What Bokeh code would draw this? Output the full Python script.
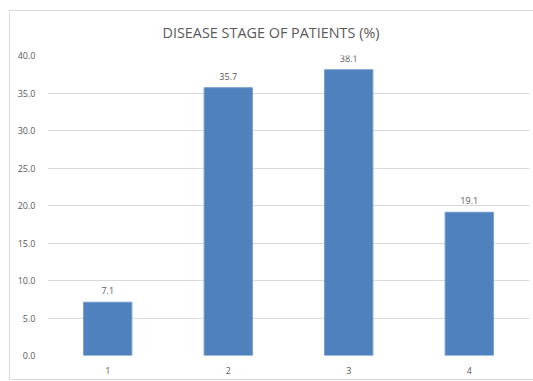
from bokeh.plotting import figure
from bokeh.models import (ColumnDataSource, LabelSet, FactorRange, Range1d,
                          NumeralTickFormatter, FixedTicker)
from bokeh.core.properties import value
from bokeh.embed import file_html
from bokeh.resources import INLINE

stages = ["1", "2", "3", "4"]
percent = [7.1, 35.7, 38.1, 19.1]
labels = ["7.1", "35.7", "38.1", "19.1"]
title_text = "DISEASE STAGE OF PATIENTS (%)"

FONT = "Open Sans"
GREY = "#595959"

src = ColumnDataSource(dict(x=stages, y=percent, lab=labels))

p = figure(width=533, height=381, x_range=FactorRange(*stages, range_padding=0),
           y_range=Range1d(0, 40), output_backend="svg", toolbar_location=None,
           min_border_left=47, min_border_right=4, min_border_top=55, min_border_bottom=26)

p.vbar(x="x", top="y", width=0.4, source=src, fill_color="#4F81BD", line_color="#6d97cc", line_width=1)

p.add_layout(LabelSet(x="x", y="y", text="lab", source=src, text_align="center", text_baseline="bottom",
                      y_offset=8, text_font=value(FONT), text_font_size="9px", text_color=GREY))

p.title.text = title_text
p.title.align = "left"
p.title.offset = 115
p.title.text_font = FONT
p.title.text_font_size = "14.4px"
p.title.text_font_style = "normal"
p.title.text_color = GREY
p.title.standoff = 28

p.border_fill_color = None
line = "linear-gradient(#d9d9d9, #d9d9d9)"
p.styles = {
    "background-color": "white",
    "background-image": ", ".join([line] * 3),
    "background-size": "1px 370px, 600px 1px, 600px 1px",
    "background-position": "9px 10px, 9px 10px, 9px 379px",
    "background-repeat": "no-repeat",
}

p.outline_line_color = None
p.xgrid.grid_line_color = None
p.ygrid.grid_line_color = "#d9d9d9"
p.ygrid.grid_line_width = 1
p.yaxis.ticker = FixedTicker(ticks=[0, 5, 10, 15, 20, 25, 30, 35, 40])
p.yaxis.formatter = NumeralTickFormatter(format="0.0")

for ax in (p.xaxis, p.yaxis):
    ax.axis_line_color = None
    ax.major_tick_line_color = None
    ax.minor_tick_line_color = None
    ax.major_label_text_font = FONT
    ax.major_label_text_font_size = "9px"
    ax.major_label_text_color = GREY
p.yaxis.major_label_standoff = 6
p.xaxis.major_label_standoff = 5

open("out.html", "w").write(file_html(p, INLINE))
